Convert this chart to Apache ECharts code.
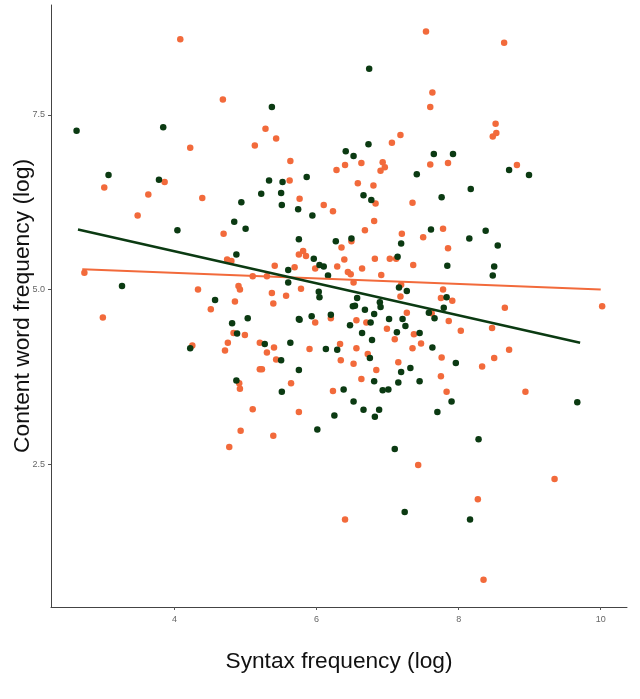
<!DOCTYPE html>
<html>
<head>
<meta charset="utf-8">
<script src="https://cdn.jsdelivr.net/npm/echarts@6.0.0/dist/echarts.min.js"></script>
<style>
  html, body { margin: 0; padding: 0; background: #fff; }
  #chart { width: 640px; height: 699px; }
</style>
</head>
<body>
<div id="chart"></div>
<script>
// tick labels
var xTicks = [4, 6, 8, 10];
var yTicks = [2.5, 5.0, 7.5];

// dark green group [syntax, content]
var greenPoints = [
  [2.62, 7.27], [3.84, 7.32], [3.07, 6.64], [3.78, 6.57], [4.04, 5.85], [3.26, 5.05],
  [5.37, 7.61], [5.86, 6.61], [5.33, 6.56], [5.52, 6.54], [5.22, 6.37], [5.50, 6.38],
  [4.94, 6.25], [5.51, 6.21], [5.74, 6.15], [5.94, 6.06], [4.84, 5.97], [5.00, 5.87],
  [5.75, 5.72], [4.87, 5.50], [5.96, 5.44], [5.60, 5.28], [5.60, 5.10], [4.57, 4.85],
  [5.93, 4.62], [5.75, 4.58], [5.03, 4.59], [4.81, 4.52], [4.88, 4.37], [5.27, 4.22],
  [5.63, 4.24], [4.22, 4.16], [6.03, 4.97], [6.04, 4.89], [6.74, 8.16], [6.73, 7.08],
  [6.41, 6.98], [6.52, 6.91], [7.65, 6.94], [7.92, 6.94], [7.41, 6.65], [8.71, 6.71],
  [8.99, 6.64], [8.17, 6.44], [7.76, 6.32], [6.66, 6.35], [6.77, 6.28], [7.61, 5.86],
  [8.38, 5.84], [8.15, 5.73], [8.55, 5.63], [6.27, 5.69], [6.49, 5.73], [7.19, 5.66],
  [7.14, 5.47], [7.84, 5.34], [8.50, 5.33], [8.48, 5.20], [6.04, 5.35], [6.10, 5.33],
  [6.16, 5.20], [7.16, 5.03], [7.27, 4.98], [7.83, 4.89], [7.79, 4.74], [6.57, 4.88],
  [6.89, 4.82], [6.90, 4.75], [6.51, 4.76], [6.54, 4.77], [6.68, 4.71], [6.81, 4.65],
  [6.20, 4.64], [6.47, 4.49], [6.76, 4.53], [7.02, 4.58], [7.21, 4.58], [7.25, 4.48],
  [6.64, 4.38], [7.13, 4.39], [7.45, 4.38], [6.78, 4.28], [7.66, 4.59], [7.58, 4.67],
  [7.63, 4.17], [6.13, 4.15], [6.29, 4.14], [5.76, 4.57], [5.50, 3.99], [5.75, 3.85],
  [4.87, 3.70], [5.51, 3.54], [6.01, 3.00], [6.75, 4.02], [7.96, 3.95], [7.19, 3.82],
  [7.32, 3.88], [6.81, 3.69], [7.15, 3.67], [7.45, 3.69], [6.38, 3.57], [6.93, 3.56],
  [7.01, 3.57], [6.52, 3.40], [6.66, 3.28], [6.88, 3.28], [6.82, 3.18], [6.25, 3.20],
  [7.90, 3.40], [7.70, 3.25], [9.67, 3.39], [8.28, 2.86], [7.10, 2.72], [7.24, 1.82],
  [8.16, 1.71]
];

// orange group
var orangePoints = [
  [4.08, 8.58], [4.68, 7.72], [5.28, 7.30], [5.43, 7.16], [5.13, 7.06], [4.22, 7.03],
  [5.63, 6.84], [3.01, 6.46], [3.86, 6.54], [3.63, 6.36], [4.39, 6.31], [5.62, 6.56],
  [5.76, 6.30], [3.48, 6.06], [4.69, 5.80], [5.75, 5.50], [5.81, 5.55], [5.85, 5.48],
  [4.74, 5.43], [4.80, 5.41], [5.41, 5.34], [5.69, 5.32], [5.98, 5.30], [2.73, 5.24],
  [5.10, 5.19], [5.30, 5.19], [4.90, 5.05], [4.92, 5.00], [4.33, 5.00], [5.78, 5.01],
  [5.37, 4.95], [5.57, 4.91], [4.85, 4.83], [5.39, 4.80], [4.51, 4.72], [2.99, 4.60],
  [5.98, 4.53], [4.99, 4.35], [4.83, 4.38], [4.75, 4.24], [5.20, 4.24], [5.40, 4.17],
  [5.90, 4.15], [4.25, 4.20], [4.71, 4.13], [5.30, 4.10], [5.43, 4.00], [5.20, 3.86],
  [5.23, 3.86], [4.91, 3.66], [4.92, 3.58], [5.64, 3.66], [5.10, 3.29], [5.75, 3.25],
  [4.93, 2.98], [5.39, 2.91], [4.77, 2.75], [7.54, 8.69], [8.64, 8.53], [7.63, 7.82],
  [7.60, 7.61], [8.52, 7.37], [8.53, 7.24], [8.48, 7.19], [7.18, 7.21], [7.06, 7.10],
  [6.28, 6.71], [6.40, 6.78], [6.63, 6.81], [6.93, 6.82], [6.96, 6.75], [6.90, 6.70],
  [7.60, 6.79], [7.85, 6.81], [8.82, 6.78], [6.58, 6.52], [6.80, 6.49], [6.83, 6.23],
  [7.35, 6.24], [6.10, 6.21], [6.23, 6.12], [6.81, 5.98], [6.68, 5.85], [7.20, 5.80],
  [7.78, 5.87], [7.50, 5.75], [6.35, 5.60], [6.49, 5.69], [7.85, 5.59], [6.39, 5.43],
  [6.82, 5.44], [7.03, 5.44], [7.12, 5.44], [6.29, 5.33], [6.64, 5.30], [7.36, 5.35],
  [6.44, 5.25], [6.48, 5.22], [6.91, 5.21], [6.52, 5.10], [7.19, 5.07], [7.78, 5.00],
  [7.18, 4.90], [7.75, 4.88], [7.91, 4.84], [10.02, 4.76], [8.65, 4.74], [7.27, 4.67],
  [7.62, 4.66], [6.20, 4.59], [6.56, 4.56], [6.70, 4.53], [7.86, 4.55], [6.99, 4.44],
  [8.03, 4.41], [8.47, 4.45], [7.37, 4.36], [7.10, 4.29], [6.33, 4.22], [7.47, 4.23],
  [6.56, 4.16], [7.35, 4.16], [8.71, 4.14], [6.34, 3.99], [6.52, 3.94], [6.72, 4.08],
  [6.84, 3.85], [6.63, 3.72], [6.23, 3.55], [7.15, 3.96], [7.76, 4.03], [7.75, 3.76],
  [7.83, 3.54], [8.33, 3.90], [8.50, 4.02], [8.94, 3.54], [7.43, 2.49], [9.35, 2.29],
  [8.27, 2.00], [6.40, 1.71], [8.35, 0.85]
];

// fitted lines (ends)
var greenFit = [[2.64, 5.86], [9.71, 4.24]];
var orangeFit = [[2.70, 5.29], [10.0, 5.00]];

var green = '#0b3a12';
var orange = '#f26a3b';

var chart = echarts.init(document.getElementById('chart'));

var option = {
  backgroundColor: '#fff',
  animation: false,
  grid: { left: 51, right: 13, top: 5, bottom: 92, outerBoundsMode: 'none' },
  xAxis: {
    type: 'value',
    min: 2.26,
    max: 10.37,
    name: 'Syntax frequency (log)',
    nameLocation: 'middle',
    nameGap: 43,
    nameMoveOverlap: false,
    nameTextStyle: { fontFamily: 'Liberation Sans', fontSize: 22.7, color: '#111' },
    axisLine: { lineStyle: { color: '#444', width: 1 } },
    axisTick: { show: true, length: 3, customValues: xTicks, lineStyle: { color: '#555' } },
    axisLabel: { customValues: xTicks, margin: 8, fontSize: 9, color: '#666', fontFamily: 'Liberation Sans' },
    splitLine: { show: false }
  },
  yAxis: {
    type: 'value',
    min: 0.46,
    max: 9.07,
    name: 'Content word frequency (log)',
    nameLocation: 'middle',
    nameGap: 17,
    nameMoveOverlap: false,
    nameTextStyle: { fontFamily: 'Liberation Sans', fontSize: 22.8, color: '#111' },
    axisLine: { show: true, lineStyle: { color: '#444', width: 1 } },
    axisTick: { show: true, length: 3, customValues: yTicks, lineStyle: { color: '#555' } },
    axisLabel: {
      customValues: yTicks, margin: 6, fontSize: 9, color: '#666', fontFamily: 'Liberation Sans',
      formatter: function (v) { return v.toFixed(1); }
    },
    splitLine: { show: false }
  },
  series: [
    {
      type: 'scatter', data: orangePoints, symbolSize: 6.5,
      itemStyle: { color: orange, opacity: 1 }, z: 2
    },
    {
      type: 'scatter', data: greenPoints, symbolSize: 6.5,
      itemStyle: { color: green, opacity: 1 }, z: 3
    },
    {
      type: 'line', data: orangeFit, symbol: 'none',
      lineStyle: { color: orange, width: 2 }, z: 4
    },
    {
      type: 'line', data: greenFit, symbol: 'none',
      lineStyle: { color: green, width: 2.5 }, z: 5
    }
  ]
};

chart.setOption(option);
</script>
</body>
</html>
